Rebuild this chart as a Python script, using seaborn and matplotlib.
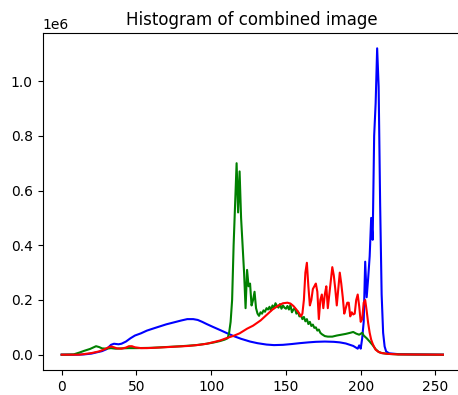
import numpy as np
import pandas as pd
import matplotlib
matplotlib.use("Agg")
import matplotlib.pyplot as plt
import seaborn as sns

# Pixel intensity levels (x) and pixel counts (in millions) per channel
blue_x = [0, 10, 15, 20, 23, 27, 30, 33, 35, 38, 40, 43, 46, 49, 53, 57, 62, 66, 70, 75,
          80, 84, 88, 91, 94, 97, 101, 106, 110, 115, 120, 126, 131, 137, 142, 148, 154,
          159, 165, 170, 176, 182, 186, 190, 195, 198, 199, 200, 201, 202, 203, 204, 205,
          206, 207, 208, 209, 210, 211, 212, 213, 214, 215, 216, 217, 219, 225, 235, 255]
blue_y = [0, 0, 0.001, 0.004, 0.008, 0.013, 0.02, 0.036, 0.04, 0.038, 0.04, 0.048, 0.06,
          0.07, 0.078, 0.088, 0.097, 0.104, 0.111, 0.118, 0.125, 0.13, 0.13, 0.127, 0.12,
          0.112, 0.102, 0.09, 0.08, 0.068, 0.058, 0.048, 0.042, 0.037, 0.035, 0.036, 0.039,
          0.042, 0.045, 0.047, 0.048, 0.047, 0.045, 0.041, 0.032, 0.022, 0.034, 0.022, 0.06,
          0.12, 0.34, 0.21, 0.28, 0.36, 0.5, 0.42, 0.8, 0.92, 1.12, 0.98, 0.55, 0.22, 0.08,
          0.03, 0.012, 0.005, 0.002, 0.001, 0]

green_x = [0, 8, 12, 15, 19, 21, 23, 25, 27, 30, 33, 36, 40, 45, 50, 60, 70, 80, 90, 97,
           102, 106, 109, 111, 112, 113, 114, 115, 116, 117, 118, 119, 120, 121, 122, 123,
           124, 125, 126, 127, 128, 129, 130, 131, 132, 133, 134, 135, 136, 137, 138, 139,
           140, 141, 142, 143, 144, 145, 146, 147, 148, 149, 150, 151, 152, 153, 154, 155,
           156, 157, 158, 159, 160, 161, 162, 163, 164, 165, 166, 167, 168, 169, 170, 171,
           172, 173, 174, 176, 178, 181, 184, 187, 190, 193, 195, 197, 199, 201, 202, 204,
           206, 208, 210, 212, 214, 218, 225, 255]
green_y = [0, 0.001, 0.008, 0.014, 0.021, 0.026, 0.031, 0.028, 0.023, 0.022, 0.024, 0.022,
           0.023, 0.024, 0.024, 0.025, 0.028, 0.031, 0.035, 0.04, 0.045, 0.05, 0.055, 0.06,
           0.08, 0.12, 0.2, 0.4, 0.55, 0.70, 0.52, 0.67, 0.5, 0.4, 0.3, 0.17, 0.31, 0.25,
           0.26, 0.18, 0.2, 0.23, 0.17, 0.15, 0.142, 0.155, 0.15, 0.162, 0.157, 0.17, 0.165,
           0.175, 0.162, 0.18, 0.17, 0.188, 0.178, 0.172, 0.185, 0.168, 0.18, 0.172, 0.168,
           0.178, 0.165, 0.182, 0.155, 0.165, 0.17, 0.15, 0.158, 0.14, 0.145, 0.13, 0.138,
           0.122, 0.13, 0.112, 0.12, 0.105, 0.11, 0.098, 0.1, 0.088, 0.092, 0.08, 0.075,
           0.068, 0.066, 0.066, 0.07, 0.073, 0.076, 0.08, 0.083, 0.077, 0.073, 0.08, 0.07,
           0.06, 0.048, 0.035, 0.02, 0.01, 0.006, 0.003, 0.001, 0]

red_x = [0, 12, 16, 20, 25, 28, 31, 33, 35, 37, 40, 43, 45, 47, 49, 53, 57, 65, 75, 85,
         92, 97, 101, 106, 110, 115, 119, 124, 128, 133, 137, 141, 145, 148, 151, 153, 155,
         157, 159, 160, 161, 162, 163, 164, 165, 166, 167, 168, 169, 170, 171, 172, 173,
         174, 175, 176, 177, 178, 179, 180, 181, 182, 183, 184, 185, 186, 187, 188, 189,
         190, 191, 192, 193, 194, 195, 196, 197, 198, 199, 200, 201, 202, 203, 204, 205,
         206, 207, 208, 209, 210, 212, 214, 218, 225, 255]
red_y = [0, 0, 0.003, 0.006, 0.012, 0.018, 0.026, 0.03, 0.027, 0.023, 0.022, 0.026, 0.031,
         0.031, 0.027, 0.024, 0.024, 0.026, 0.029, 0.032, 0.036, 0.04, 0.045, 0.052, 0.06,
         0.069, 0.078, 0.095, 0.106, 0.125, 0.145, 0.165, 0.18, 0.188, 0.19, 0.187, 0.178,
         0.165, 0.15, 0.14, 0.15, 0.2, 0.3, 0.336, 0.25, 0.18, 0.2, 0.24, 0.25, 0.26, 0.23,
         0.13, 0.2, 0.22, 0.17, 0.22, 0.25, 0.17, 0.22, 0.27, 0.32, 0.29, 0.24, 0.18, 0.24,
         0.3, 0.26, 0.21, 0.15, 0.17, 0.19, 0.19, 0.14, 0.155, 0.147, 0.15, 0.2, 0.22,
         0.177, 0.12, 0.13, 0.19, 0.2, 0.16, 0.115, 0.08, 0.055, 0.04, 0.028, 0.018, 0.01,
         0.006, 0.003, 0.001, 0]

x_ticks = [0, 50, 100, 150, 200, 250]
title = "Histogram of combined image"

fig = plt.figure(figsize=(4.58, 3.95), dpi=100)
ax = fig.add_axes([42.6 / 458, 25 / 395, (462 - 42.6) / 458, (370 - 33) / 395])

for xs, ys, col in [(blue_x, blue_y, "b"), (green_x, green_y, "g"), (red_x, red_y, "r")]:
    df = pd.DataFrame({"level": xs, "count": np.array(ys) * 1e6})
    sns.lineplot(data=df, x="level", y="count", color=col, linewidth=1.5, ax=ax)

ax.set_xlabel("")
ax.set_ylabel("")
ax.set_xticks(x_ticks)
ax.set_title(title, fontsize=12)
ax.margins(x=0.05, y=0.05)

fig.savefig("out.png", dpi=100)
